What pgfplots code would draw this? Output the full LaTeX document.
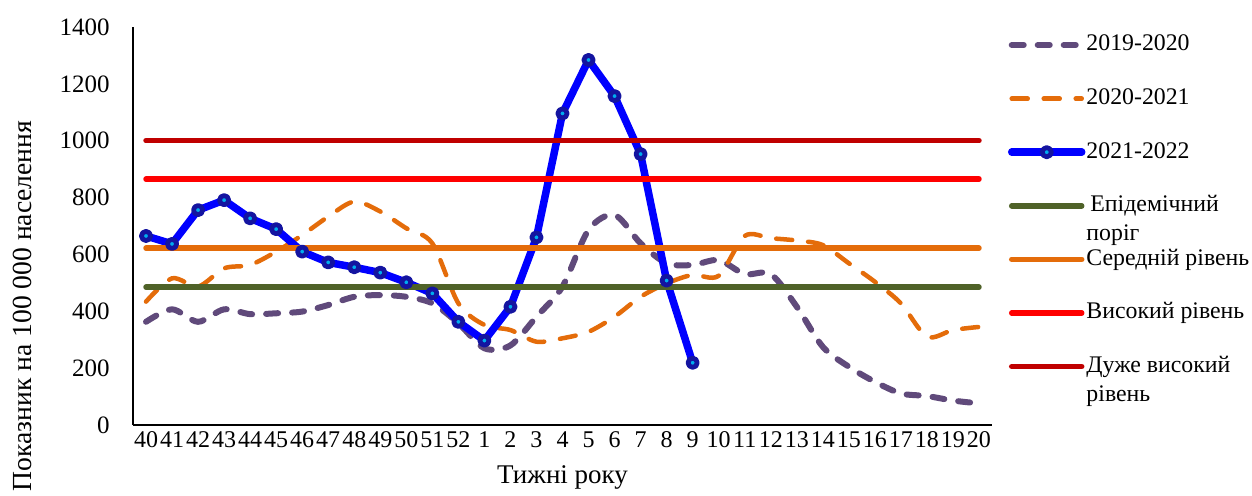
\documentclass[border=0pt]{standalone}
\usepackage{fontspec}
\setmainfont{Liberation Serif}
\usepackage{pgfplots}
\pgfplotsset{compat=1.18}

\definecolor{cPurple}{RGB}{96,74,123}
\definecolor{cOrange}{RGB}{228,108,10}
\definecolor{cBlue}{RGB}{0,0,255}
\definecolor{cMark}{RGB}{20,20,160}
\definecolor{cGreen}{RGB}{79,98,40}
\definecolor{cRed}{RGB}{255,0,0}
\definecolor{cDarkRed}{RGB}{192,0,0}

\newcommand{\twolines}[2]{\begin{tabular}[t]{@{}l@{}}#1\\#2\end{tabular}}

\begin{document}
\begin{tikzpicture}
\useasboundingbox (-66.5pt,-35pt) rectangle (559.5pt,212.5pt);
\begin{axis}[
  at={(0,0)}, anchor=south west,
  scale only axis,
  width=429.5pt, height=199pt,
  xmin=-0.5, xmax=32.5, ymin=0, ymax=1400,
  axis lines*=left,
  axis line style={line width=1pt, black},
  major tick length=0pt,
  xtick={0,...,32},
  xticklabels={40,41,42,43,44,45,46,47,48,49,50,51,52,1,2,3,4,5,6,7,8,9,10,11,12,13,14,15,16,17,18,19,20},
  ytick={0,200,...,1400},
  /pgf/number format/assume math mode=true,
  /pgf/number format/1000 sep={},
  xticklabel style={font=\fontsize{12}{14}\selectfont, anchor=base, inner sep=0pt, yshift=-11pt},
  yticklabel style={font=\fontsize{12.5}{14}\selectfont, anchor=east, inner sep=0pt, xshift=-11.5pt},
  xlabel={Тижні року},
  ylabel={Показник на 100 000 населення},
  xlabel style={font=\fontsize{13.5}{16}\selectfont, at={(axis description cs:0.5,-0.1457)}, anchor=base},
  ylabel style={font=\fontsize{13.8}{16}\selectfont, at={(axis description cs:-0.1292,0.299)}, anchor=center},
  legend image code/.code={\draw[mark repeat=2,mark phase=2] plot coordinates {(0pt,0pt) (17.5pt,0pt) (35pt,0pt)};},
  legend cell align=left,
  legend style={draw=none, fill=none, inner sep=0pt, outer sep=0pt,
    at={(axis description cs:1.0186,0.985)}, anchor=north west,
    row sep=14.8pt, column sep=0.5pt,
    font=\fontsize{11.9}{14.5}\selectfont,
    nodes={inner sep=0pt, text height=9pt, text depth=3pt}},
]
% 2019-2020
\addplot[color=cPurple, line width=3pt, line cap=round, dash pattern=on 6pt off 7pt, smooth, tension=0.5] coordinates {
(0,363)(1,407)(2,363)(3,407)(4,390)(5,393)(6,399)(7,422)(8,451)(9,457)(10,451)(11,428)(12,358)
(13,270)(14,280)(15,381)(16,487)(17,686)(18,739)(19,639)(20,569)(21,563)(22,580)(23,531)(24,531)
(25,416)(26,275)(27,205)(28,152)(29,111)(30,102)(31,86)(32,76)};
\addlegendentry{2019-2020}
% 2020-2021
\addplot[color=cOrange, line width=2.25pt, line cap=round, dash pattern=on 8pt off 8pt, smooth, tension=0.5] coordinates {
(0,434)(1,516)(2,487)(3,551)(4,563)(5,610)(6,668)(7,733)(8,786)(9,751)(10,692)(11,639)(12,428)
(13,352)(14,334)(15,293)(16,305)(17,328)(18,381)(19,451)(20,498)(21,528)(22,525)(23,665)(24,657)
(25,649)(26,633)(27,569)(28,504)(29,428)(30,311)(31,334)(32,345)};
\addlegendentry{2020-2021}
% 2021-2022
\addplot[color=cBlue, line width=3.75pt, line join=round, line cap=round,
  mark=*, mark size=2.3pt, mark options={draw=cMark, fill=cyan, line width=2.4pt, solid}] coordinates {
(0,665)(1,637)(2,756)(3,791)(4,727)(5,689)(6,610)(7,572)(8,555)(9,536)(10,502)(11,463)(12,363)
(13,297)(14,416)(15,660)(16,1096)(17,1284)(18,1157)(19,953)(20,508)(21,219)};
\addlegendentry{2021-2022}
% thresholds
\addplot[color=cGreen, line width=2.75pt, line cap=round] coordinates {(0,485)(32,485)};
\addlegendentry{\twolines{\,Епідемічний}{поріг}}
\addplot[color=cOrange, line width=2.75pt, line cap=round] coordinates {(0,622)(32,622)};
\addlegendentry{Середній рівень}
\addplot[color=cRed, line width=2.75pt, line cap=round] coordinates {(0,865)(32,865)};
\addlegendentry{Високий рівень}
\addplot[color=cDarkRed, line width=2.75pt, line cap=round] coordinates {(0,1000)(32,1000)};
\addlegendentry{\twolines{Дуже високий}{рівень}}
\end{axis}
\end{tikzpicture}
\end{document}
